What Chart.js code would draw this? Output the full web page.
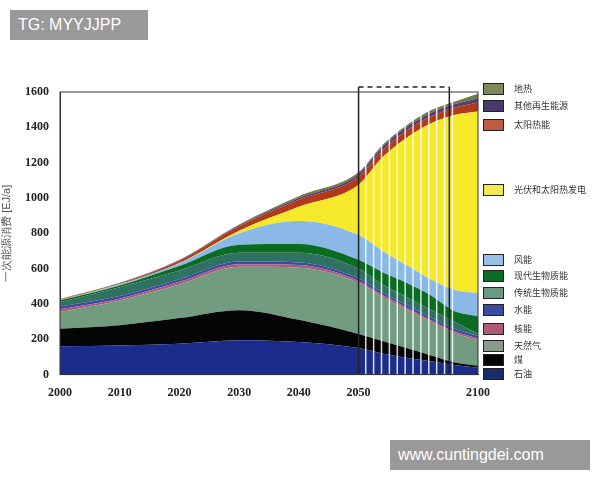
<!DOCTYPE html>
<html><head><meta charset="utf-8">
<script src="https://cdn.jsdelivr.net/npm/chart.js@4"></script>
<style>
body{margin:0;background:#fff;width:600px;height:480px;position:relative;overflow:hidden;font-family:"Noto Sans CJK SC",sans-serif}
#c{position:absolute;left:0;top:0}
.wm{position:absolute;background:#999;color:#fff;font-family:"Liberation Sans",Arial;font-size:16px;line-height:30px;padding:0 8px}
.lg{position:absolute;left:483px;font-size:9px;color:#333;display:flex;align-items:center}
.lg i{display:inline-block;width:19px;height:10px;border:1px solid #222;margin-right:10px}
</style></head><body>
<canvas id="c" width="600" height="480"></canvas>
<div class="wm" style="left:10px;top:10px;width:122px">TG: MYYJJPP</div>
<div class="wm" style="left:390px;top:440px;width:184px">www.cuntingdei.com</div>
<div id="legend"></div>
<script>
const years=[2000,2010,2020,2030,2040,2050,2060,2070,2080,2090,2100];
const tickYears=[2000,2010,2020,2030,2040,2050,2100];
const yTicks=[0,200,400,600,800,1000,1200,1400,1600];
const names=["石油","煤","天然气","核能","水能","传统生物质能","现代生物质能","风能","光伏和太阳热发电","太阳热能","其他再生能源","地热"];
const colors=["#1b2c8c","#050505","#719c80","#b0587c","#3b4ba2","#2f7262","#0b6b22","#8ab9e8","#f6e92a","#b03a1a","#5a3b72","#6b7b4b"];
const legendColors=["#1b2c6c","#050505","#8a9a8c","#b05a7a","#3b4ba2","#6a9a84","#0b6b22","#9ac0e8","#f2ea50","#c05a40","#4a3a6a","#7a8a5a"];
const legendY=[374,360,346,329,310,293,276,260,190,125,106,89];
// cumulative tops per layer
const tops=[
[160,165,175,195,185,150,120,95,75,55,40],
[260,280,320,365,310,230,190,150,110,70,50],
[355,420,510,610,605,520,440,370,300,235,195],
[370,430,525,625,620,530,450,380,310,245,205],
[385,445,540,640,635,545,465,395,325,260,220],
[410,495,590,690,690,600,510,440,370,300,230],
[420,505,615,735,740,650,580,520,450,360,330],
[420,510,630,800,870,790,700,620,540,480,460],
[421,511,632,815,950,1075,1230,1340,1420,1470,1490],
[425,515,645,840,990,1120,1270,1380,1460,1510,1540],
[426,517,648,845,1000,1135,1290,1400,1480,1530,1565],
[428,520,650,850,1010,1145,1300,1410,1495,1545,1590]];
const pos=y=>y<=2050?y:2050+(y-2050)*0.4;
const unpos=p=>p<=2050?p:Math.round(2050+(p-2050)/0.4);
const datasets=tops.map((t,i)=>({label:names[i],data:years.map((y,j)=>({x:pos(y),y:t[j]-(i?tops[i-1][j]:0)})),backgroundColor:colors[i],borderWidth:0,pointRadius:0,fill:i?'-1':'origin',cubicInterpolationMode:'monotone',stack:'s'}));
const lg=document.getElementById('legend');
names.forEach((n,i)=>{const d=document.createElement('div');d.className='lg';d.style.top=(legendY[i]-7)+'px';d.innerHTML='<i style="background:'+legendColors[i]+'"></i>'+n;lg.appendChild(d);});
const deco={id:'deco',afterDatasetsDraw(ch){const c=ch.ctx,x=ch.scales.x,a=ch.chartArea;
 c.save();c.strokeStyle='rgba(255,255,255,0.85)';c.lineWidth=1.5;
 for(let y=2053;y<2090;y+=3.3){const px=x.getPixelForValue(pos(y));c.beginPath();c.moveTo(px,a.top);c.lineTo(px,a.bottom);c.stroke();}
 c.strokeStyle='#222';c.lineWidth=1.5;const x1=x.getPixelForValue(2050),x2=x.getPixelForValue(pos(2088));
 [x1,x2].forEach(p=>{c.beginPath();c.moveTo(p,a.top-5);c.lineTo(p,a.bottom);c.stroke();});
 c.setLineDash([5,4]);c.beginPath();c.moveTo(x1,a.top-5);c.lineTo(x2,a.top-5);c.stroke();c.setLineDash([]);
 c.strokeStyle='#333';c.lineWidth=1;c.strokeRect(a.left,a.top,a.right-a.left,a.bottom-a.top);c.restore();}};
new Chart(document.getElementById('c'),{type:'line',data:{datasets},plugins:[deco],
options:{responsive:false,animation:false,layout:{padding:{top:92,right:122,bottom:77,left:0}},
plugins:{legend:{display:false},tooltip:{enabled:false}},
scales:{x:{type:'linear',min:2000,max:2070,grid:{display:false},border:{color:'#333'},
 afterBuildTicks:s=>{s.ticks=tickYears.map(y=>({value:pos(y)}));},
 ticks:{autoSkip:false,maxRotation:0,color:'#222',font:{family:'Liberation Serif',weight:'bold',size:12},callback:v=>unpos(v)}},
y:{stacked:true,min:0,max:1600,grid:{display:false},border:{color:'#333'},
 afterBuildTicks:s=>{s.ticks=yTicks.map(v=>({value:v}));},
 afterFit:s=>{s.width=60;},
 ticks:{color:'#222',font:{family:'Liberation Serif',weight:'bold',size:12},callback:v=>String(v)},
 title:{display:true,text:'一次能源消费 [EJ/a]',color:'#555',font:{size:11},padding:0}}}}});
</script></body></html>
